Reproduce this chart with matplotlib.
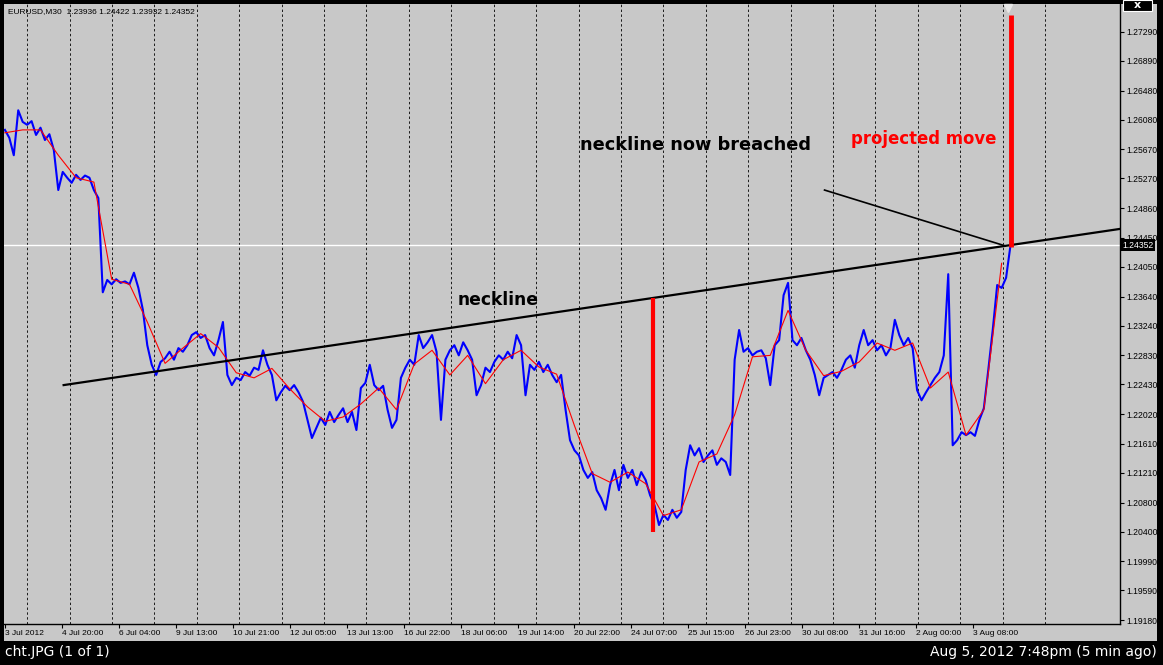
import matplotlib
matplotlib.use("Agg")
import matplotlib.pyplot as plt
import matplotlib.transforms as mtransforms
from matplotlib.patches import Rectangle
import numpy as np

plt.rcParams['font.family'] = ['Liberation Sans', 'DejaVu Sans']

# EURUSD M30 closes, every 5 bars
close_step = 5
closes = [
    1.2594, 1.2583, 1.2559, 1.2621, 1.2605, 1.2601, 1.2606, 1.2587, 1.2597, 1.2580,
    1.2588, 1.2566, 1.2511, 1.2536, 1.2528, 1.2521, 1.2532, 1.2525, 1.2531, 1.2528,
    1.2511, 1.2500, 1.2370, 1.2387, 1.2381, 1.2388, 1.2383, 1.2385, 1.2381, 1.2397,
    1.2376, 1.2346, 1.2297, 1.2270, 1.2256, 1.2274, 1.2279, 1.2288, 1.2277, 1.2293,
    1.2288, 1.2297, 1.2311, 1.2315, 1.2307, 1.2311, 1.2293, 1.2283, 1.2304, 1.2329,
    1.2256, 1.2242, 1.2252, 1.2249, 1.2260, 1.2255, 1.2266, 1.2263, 1.2290, 1.2270,
    1.2256, 1.2221, 1.2232, 1.2241, 1.2235, 1.2242, 1.2232, 1.2219, 1.2194, 1.2169,
    1.2183, 1.2197, 1.2187, 1.2205, 1.2191, 1.2201, 1.2210, 1.2191, 1.2205, 1.2180,
    1.2238, 1.2245, 1.2270, 1.2242, 1.2235, 1.2241, 1.2208, 1.2183, 1.2194, 1.2252,
    1.2266, 1.2277, 1.2270, 1.2311, 1.2293, 1.2301, 1.2311, 1.2288, 1.2194, 1.2277,
    1.2290, 1.2297, 1.2283, 1.2301, 1.2290, 1.2277, 1.2228, 1.2242, 1.2266, 1.2260,
    1.2274, 1.2283, 1.2277, 1.2288, 1.2279, 1.2311, 1.2297, 1.2228, 1.2270, 1.2263,
    1.2274, 1.2260, 1.2270, 1.2256, 1.2246, 1.2256, 1.2208, 1.2166, 1.2152, 1.2145,
    1.2125, 1.2114, 1.2122, 1.2097, 1.2086, 1.2070, 1.2104, 1.2125, 1.2097, 1.2132,
    1.2114, 1.2125, 1.2104, 1.2122, 1.2111, 1.2090, 1.2076, 1.2049, 1.2063, 1.2056,
    1.2070, 1.2059, 1.2067, 1.2125, 1.2159, 1.2145, 1.2155, 1.2136, 1.2145, 1.2152,
    1.2132, 1.2141, 1.2136, 1.2118, 1.2277, 1.2318, 1.2288, 1.2293, 1.2283, 1.2288,
    1.2290, 1.2279, 1.2242, 1.2297, 1.2304, 1.2366, 1.2383, 1.2304, 1.2297, 1.2307,
    1.2290, 1.2277, 1.2256, 1.2228, 1.2252, 1.2256, 1.2260, 1.2252, 1.2263, 1.2277,
    1.2283, 1.2266, 1.2297, 1.2318, 1.2297, 1.2304, 1.2290, 1.2297, 1.2283, 1.2293,
    1.2332, 1.2311, 1.2297, 1.2307, 1.2293, 1.2235, 1.2221, 1.2232, 1.2242, 1.2252,
    1.2260, 1.2283, 1.2395, 1.2159, 1.2166, 1.2177, 1.2173, 1.2177, 1.2172, 1.2194,
    1.2210, 1.2263, 1.2318, 1.2380, 1.2376, 1.2390, 1.24352,
]

# moving average, read every 20 bars
ma_step = 20
ma_values = [
    1.2590, 1.2594, 1.2594, 1.2559, 1.2528, 1.2522, 1.2388, 1.2381, 1.2329, 1.2272,
    1.2293, 1.2313, 1.2294, 1.2259, 1.2252, 1.2265, 1.2237, 1.2212, 1.2192, 1.2198,
    1.2216, 1.2238, 1.2208, 1.2271, 1.2290, 1.2256, 1.2283, 1.2244, 1.2277, 1.2290,
    1.2267, 1.2257, 1.2186, 1.2120, 1.2108, 1.2122, 1.2106, 1.2062, 1.2070, 1.2136,
    1.2147, 1.2201, 1.2281, 1.2283, 1.2345, 1.2290, 1.2255, 1.2261, 1.2274, 1.2300,
    1.2290, 1.2300, 1.2238, 1.2260, 1.2173, 1.2208, 1.2410,
]

last_price = 1.24352
header = "EURUSD,M30  1.23936 1.24422 1.23932 1.24352"

# neckline anchors (bar, price) and annotation lines
neck_start = (66, 1.2242)
neck_end = (1124, 1.2434)
pointer_start = (921, 1.2511)
pointer_end = (1124, 1.2434)
drop_bar, drop_top, drop_bottom = 728, 1.2362, 1.2039
proj_bar, proj_bottom, proj_top = 1130, 1.2433, 1.2752

price_ticks = [1.27290, 1.26890, 1.26480, 1.26080, 1.25670, 1.25270, 1.24860,
               1.24450, 1.24050, 1.23640, 1.23240, 1.22830, 1.22430, 1.22020,
               1.21610, 1.21210, 1.20800, 1.20400, 1.19990, 1.19590, 1.19180]
time_labels = ["3 Jul 2012", "4 Jul 20:00", "6 Jul 04:00", "9 Jul 13:00",
               "10 Jul 21:00", "12 Jul 05:00", "13 Jul 13:00", "16 Jul 22:00",
               "18 Jul 06:00", "19 Jul 14:00", "20 Jul 22:00", "24 Jul 07:00",
               "25 Jul 15:00", "26 Jul 23:00", "30 Jul 08:00", "31 Jul 16:00",
               "2 Aug 00:00", "3 Aug 08:00"]
bars_per_label = 64

W, H = 1163, 665
grey = '#C8C8C8'
fig = plt.figure(figsize=(W / 100, H / 100), dpi=100, facecolor='black')

# grey window panel, behind the axes
fig.patches.append(Rectangle((4 / W, 1 - 641 / H), 1153 / W, 637 / H,
                             transform=fig.transFigure, facecolor=grey,
                             edgecolor='none', zorder=-10))

ax = fig.add_axes([4 / W, 1 - 624 / H, 1116 / W, 620 / H])
ax.set_zorder(1)
ax.set_facecolor(grey)
ax.set_xlim(-1, 1253)
ax.set_ylim(1.19125, 1.27676)

# vertical dotted grid
for g in np.arange(25, 1200, 47.66):
    ax.axvline(g, color='#1a1a1a', lw=0.7, ls=(0, (2.5, 2.5)), zorder=1)

ax.axhline(last_price, color='white', lw=1, zorder=2)

close_x = np.arange(len(closes)) * close_step
ma_x = np.arange(len(ma_values)) * ma_step
ax.plot(close_x, closes, color='#0000FF', lw=1.5, zorder=3)
ax.plot(ma_x, ma_values, color='#FF0000', lw=0.8, zorder=4)

# neckline extended to the right edge
slope = (neck_end[1] - neck_start[1]) / (neck_end[0] - neck_start[0])
x_right = ax.get_xlim()[1]
ax.plot([neck_start[0], x_right],
        [neck_start[1], neck_start[1] + slope * (x_right - neck_start[0])],
        color='black', lw=1.6, zorder=5)
ax.plot([pointer_start[0], pointer_end[0]], [pointer_start[1], pointer_end[1]],
        color='black', lw=1.2, zorder=5)

ax.plot([drop_bar, drop_bar], [drop_top, drop_bottom], color='#FF0000', lw=3, zorder=6,
        solid_capstyle='butt')
ax.plot([proj_bar, proj_bar], [proj_bottom, proj_top], color='#FF0000', lw=3.5, zorder=6,
        solid_capstyle='butt')

# chart shift marker at the top
trans_top = mtransforms.blended_transform_factory(ax.transData, ax.transAxes)
ax.plot([1127], [0.993], marker='v', color='#E8E8E8', ms=6, transform=trans_top,
        clip_on=False, zorder=7)

ax.text(646, 1.2573, "neckline now breached", fontsize=12.8, fontweight='bold',
        family='DejaVu Sans', color='black', va='center', ha='left')
ax.text(951, 1.2581, "projected move", fontsize=11.9, fontweight='bold',
        family='DejaVu Sans', color='#FF0000', va='center', ha='left')
ax.text(509, 1.2359, "neckline", fontsize=12.3, fontweight='bold',
        family='DejaVu Sans', color='black', va='center', ha='left')

# axes, MT4 style
for s in ['top', 'left']:
    ax.spines[s].set_visible(False)
for s in ['right', 'bottom']:
    ax.spines[s].set_color('black')
    ax.spines[s].set_linewidth(1)

ax.yaxis.tick_right()
ax.set_yticks(price_ticks)
ax.set_yticklabels([f"{p:.5f}" for p in price_ticks])
ax.set_xticks(np.arange(len(time_labels)) * bars_per_label)
ax.set_xticklabels(time_labels)
ax.tick_params(axis='both', length=3, width=0.8, color='black',
               labelcolor='black', pad=1.5)
ax.tick_params(axis='x', labelsize=6)
ax.tick_params(axis='y', labelsize=6.2)
for lbl in ax.get_xticklabels():
    lbl.set_horizontalalignment('left')

trans_price = mtransforms.blended_transform_factory(ax.transAxes, ax.transData)
ax.text(1.0025, last_price, f"{last_price:.5f}", transform=trans_price, fontsize=6.2,
        color='white', va='center', ha='left',
        bbox=dict(boxstyle='square,pad=0.15', facecolor='black', edgecolor='none'))

fig.text(8 / W, 1 - 12 / H, header, fontsize=6.0, color='black', va='center', ha='left')

# window chrome
fig.patches.append(Rectangle((1123 / W, 1 - 11 / H), 29 / W, 11 / H,
                             transform=fig.transFigure, facecolor='black',
                             edgecolor='white', lw=0.8, zorder=5))
fig.text(1137.5 / W, 1 - 5 / H, "x", fontsize=8, fontweight='bold', color='white',
         ha='center', va='center', family='DejaVu Sans', zorder=6)
fig.text(5 / W, 1 - 652 / H, "cht.JPG (1 of 1)", fontsize=10, color='white',
         va='center', ha='left', family='DejaVu Sans')
fig.text(1157 / W, 1 - 652 / H, "Aug 5, 2012 7:48pm (5 min ago)", fontsize=10,
         color='white', va='center', ha='right', family='DejaVu Sans')

fig.savefig("out.png", dpi=100, facecolor='black')
